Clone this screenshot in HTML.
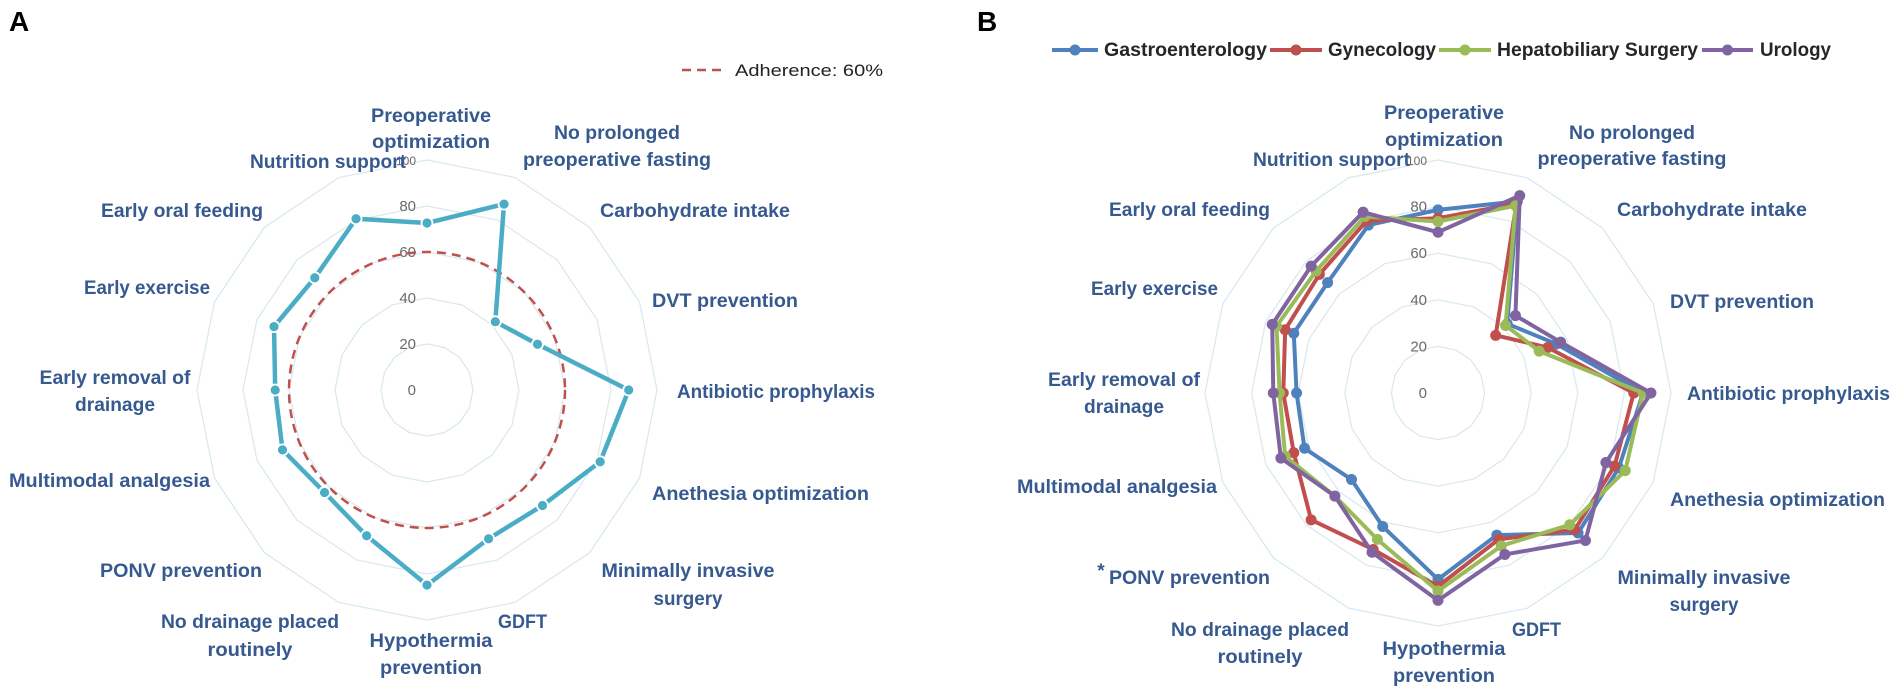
<!DOCTYPE html>
<html><head><meta charset="utf-8"><style>
html,body{margin:0;padding:0;background:#fff;}
svg{display:block;}
.lb{font-family:"Liberation Sans",sans-serif;font-weight:bold;font-size:19px;fill:#36598f;}
.ax{font-family:"Liberation Sans",sans-serif;font-size:15px;fill:#6a6a6a;}
.lg{font-family:"Liberation Sans",sans-serif;font-size:17px;fill:#222;}
</style></head><body>
<svg id="s" xmlns="http://www.w3.org/2000/svg" width="1902" height="699" viewBox="0 0 1902 699">
<text x="9" y="31" style="font-family:'Liberation Sans',sans-serif;font-weight:bold;font-size:28px;fill:#000">A</text>
<text x="977" y="31" style="font-family:'Liberation Sans',sans-serif;font-weight:bold;font-size:28px;fill:#000">B</text>
<line x1="682" y1="70" x2="727" y2="70" stroke="#c0504d" stroke-width="2.5" stroke-dasharray="9,6"/>
<text class="lg" x="735" y="76" textLength="148" lengthAdjust="spacingAndGlyphs">Adherence: 60%</text>
<g id="gA"></g><g id="gB"></g>
<g id="legB"></g>
</svg>
<script>
var NS="http://www.w3.org/2000/svg",S=document.getElementById('s');
function el(p,t,a,txt){var e=document.createElementNS(NS,t);for(var k in a)e.setAttribute(k,a[k]);if(txt)e.textContent=txt;p.appendChild(e);return e;}
function pt(cx,cy,R,i,v){var a=i*Math.PI/8;return [cx+Math.sin(a)*R*v/100,cy-Math.cos(a)*R*v/100];}
function grid(g,cx,cy,R){
 for(var k=1;k<=5;k++){var ps=[];for(var i=0;i<16;i++){ps.push(pt(cx,cy,R,i,k*20).join(','));}
  el(g,'polygon',{points:ps.join(' '),fill:'none',stroke:'#d7e8ee','stroke-width':1.2});}
}
function axl(g,cx,cy,R,fs){
 for(var k=0;k<=5;k++){el(g,'text',{class:'ax',x:cx-11,y:cy-R*k/5+5,'text-anchor':'end',style:k==5?'font-size:12px':''},String(k*20));}
}
function series(g,cx,cy,R,d,col,w,mr,outline){
 var ps=d.map(function(v,i){return pt(cx,cy,R,i,v).join(',');});
 el(g,'polygon',{points:ps.join(' '),fill:'none',stroke:col,'stroke-width':w,'stroke-linejoin':'round'});
 d.forEach(function(v,i){var p=pt(cx,cy,R,i,v);el(g,'circle',{cx:p[0],cy:p[1],r:mr,fill:col,stroke:outline?'#fff':'none','stroke-width':1.8});});
}
function lab(g,list){list.forEach(function(l){var a={class:'lb',x:l[1],y:l[2]+7,'text-anchor':l[0]};if(l[4])a.textLength=l[4],a.lengthAdjust='spacingAndGlyphs';el(g,'text',a,l[3]);});}
// Chart A
var gA=document.getElementById('gA'),cxA=427,cyA=390,RA=230;
grid(gA,cxA,cyA,RA);axl(gA,cxA,cyA,RA);
el(gA,'circle',{cx:cxA,cy:cyA,r:RA*0.6,fill:'none',stroke:'#c0504d','stroke-width':2.5,'stroke-dasharray':'9,6'});
series(gA,cxA,cyA,RA,[72.6,87.5,42,52,87.7,81.5,71,70,84.8,68.6,63,68,66,72,69,80.6],'#4bacc6',4.5,5.5,true);
lab(gA,[
['middle',431,115,'Preoperative',120],['middle',431,141,'optimization',118],
['middle',617,132,'No prolonged',126],['middle',617,159,'preoperative fasting',188],
['end',406,161,'Nutrition support',156],
['start',600,210,'Carbohydrate intake',190],['end',263,210,'Early oral feeding',162],
['start',652,300,'DVT prevention',146],['end',210,287,'Early exercise',126],
['start',677,391,'Antibiotic prophylaxis',198],
['middle',115,377,'Early removal of',151],['middle',115,404,'drainage',80],
['end',210,480,'Multimodal analgesia',201],['start',652,493,'Anethesia optimization',217],
['end',262,570,'PONV prevention',162],
['middle',688,570,'Minimally invasive',173],['middle',688,598,'surgery',69],
['middle',250,621,'No drainage placed',178],['middle',250,649,'routinely',85],
['start',498,621,'GDFT',49],
['middle',431,640,'Hypothermia',123],['middle',431,667,'prevention',102]
]);
// Chart B
var gB=document.getElementById('gB'),cxB=1438,cyB=393,RB=233;
grid(gB,cxB,cyB,RB);axl(gB,cxB,cyB,RB);
var B={
'#4f81bd':[78.6,89,42,55,88,84,85,66,80,62,52.5,62,60.7,67,67,78],
'#c0504d':[75,88,35,51,84,82,83,68,83,72.7,77,67,66.4,71,72,80],
'#9bbb59':[73.6,87,41,47,88,87,80,71,85,68,62.6,71,68,75,74,82],
'#8064a2':[69,91.7,47,57,91.4,78,89.5,75,89,74,62.6,73,70.7,77,77,84]};
for(var c in B)series(gB,cxB,cyB,RB,B[c],c,4,5.5,false);
lab(gB,[
['middle',1444,112,'Preoperative',120],['middle',1444,139,'optimization',118],
['middle',1632,132,'No prolonged',126],['middle',1632,158,'preoperative fasting',189],
['end',1410,159,'Nutrition support',157],
['start',1617,209,'Carbohydrate intake',190],['end',1270,209,'Early oral feeding',161],
['start',1670,301,'DVT prevention',144],['end',1218,288,'Early exercise',127],
['start',1687,393,'Antibiotic prophylaxis',203],
['middle',1124,379,'Early removal of',152],['middle',1124,406,'drainage',80],
['end',1217,486,'Multimodal analgesia',200],['start',1670,499,'Anethesia optimization',215],
['end',1270,577,'PONV prevention',161],['middle',1101,570,'*'],
['middle',1704,577,'Minimally invasive',173],['middle',1704,604,'surgery',69],
['middle',1260,629,'No drainage placed',178],['middle',1260,656,'routinely',85],
['start',1512,629,'GDFT',49],
['middle',1444,648,'Hypothermia',123],['middle',1444,675,'prevention',102]
]);
// legend B
var lg=document.getElementById('legB');
[['#4f81bd',1052,1098,1104,'Gastroenterology',163],['#c0504d',1270,1322,1328,'Gynecology',108],
 ['#9bbb59',1439,1491,1497,'Hepatobiliary Surgery',201],['#8064a2',1702,1753,1760,'Urology',71]].forEach(function(l){
 el(lg,'line',{x1:l[1],y1:50,x2:l[2],y2:50,stroke:l[0],'stroke-width':4});
 el(lg,'circle',{cx:(l[1]+l[2])/2,cy:50,r:5.5,fill:l[0]});
 el(lg,'text',{class:'lb',x:l[3],y:56,style:'fill:#262626',textLength:l[5],lengthAdjust:'spacingAndGlyphs'},l[4]);
});
</script>
</body></html>
